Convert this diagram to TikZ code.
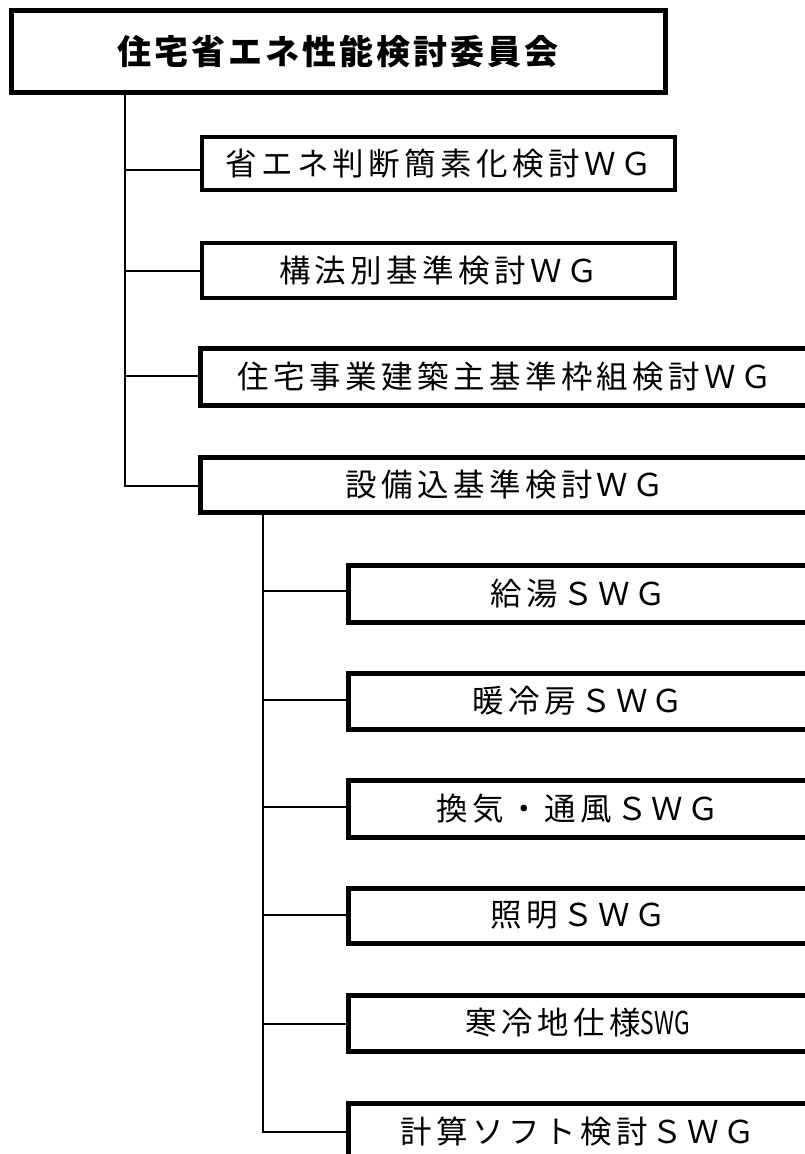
\documentclass[tikz,border=0pt]{standalone}
\usepackage{fontspec}
\newfontfamily\jp[LetterSpace=14]{Noto Sans CJK JP}
\newfontfamily\jpt[LetterSpace=9]{Noto Sans CJK JP}
\begin{document}
\begin{tikzpicture}[x=1pt,y=-1pt,
  wgbox/.style={draw,line width=3.6pt,fill=white,inner sep=0pt,font=\jp\fontsize{31.5}{34}\selectfont},
  wgthick/.style={wgbox,line width=5pt},
  titlebox/.style={draw,line width=5pt,fill=white,inner sep=0pt,font=\jpt\bfseries\fontsize{34}{38}\selectfont},
  conn/.style={line width=2pt}]
\useasboundingbox (0,0) rectangle (805,1154);
\clip (0,0) rectangle (805,1154);
\fill[white] (0,0) rectangle (805,1154);
% title
\node[titlebox,minimum width=654,minimum height=82.5] (top) at (338,51.25) {住宅省エネ性能検討委員会};
% WG boxes
\node[wgbox,minimum width=473,minimum height=53] (wg1) at (438.5,163.5) {省エネ判断簡素化検討ＷＧ};
\node[wgbox,minimum width=473,minimum height=55] (wg2) at (438.5,270.5) {構法別基準検討ＷＧ};
\node[wgthick,minimum width=610,minimum height=57] (wg3) at (505,376.5) {住宅事業建築主基準枠組検討ＷＧ};
\node[wgthick,minimum width=610,minimum height=55] (wg4) at (505,484.5) {設備込基準検討ＷＧ};
% SWG boxes
\node[wgthick,minimum width=460,minimum height=57] (s1) at (578,593.5) {給湯ＳＷＧ};
\node[wgthick,minimum width=460,minimum height=56] (s2) at (578,701) {暖冷房ＳＷＧ};
\node[wgthick,minimum width=460,minimum height=57] (s3) at (578,808.5) {換気・通風ＳＷＧ};
\node[wgthick,minimum width=460,minimum height=55] (s4) at (578,915.5) {照明ＳＷＧ};
\node[wgthick,minimum width=460,minimum height=56] (s5) at (578,1023) {寒冷地仕様{\addfontfeature{LetterSpace=2}\scalebox{0.72}[1]{SWG}}};
\node[wgthick,minimum width=460,minimum height=57] (s6) at (578,1131.5) {計算ソフト検討ＳＷＧ};
% junctions
\coordinate (j1) at (125,170);
\coordinate (j2) at (125,271);
\coordinate (j3) at (125,376);
\coordinate (j4) at (125,486);
\coordinate (k1) at (263,591);
\coordinate (k2) at (263,700);
\coordinate (k3) at (263,807);
\coordinate (k4) at (263,915);
\coordinate (k5) at (263,1024);
\coordinate (k6) at (263,1132);
% connectors
\draw[conn] (top.south -| j1) -- (j4) -- (j4 -| wg4.west);
\draw[conn] (j1) -- (j1 -| wg1.west);
\draw[conn] (j2) -- (j2 -| wg2.west);
\draw[conn] (j3) -- (j3 -| wg3.west);
\draw[conn] (wg4.south -| k1) -- (k6) -- (k6 -| s6.west);
\draw[conn] (k1) -- (k1 -| s1.west);
\draw[conn] (k2) -- (k2 -| s2.west);
\draw[conn] (k3) -- (k3 -| s3.west);
\draw[conn] (k4) -- (k4 -| s4.west);
\draw[conn] (k5) -- (k5 -| s5.west);
\end{tikzpicture}
\end{document}
